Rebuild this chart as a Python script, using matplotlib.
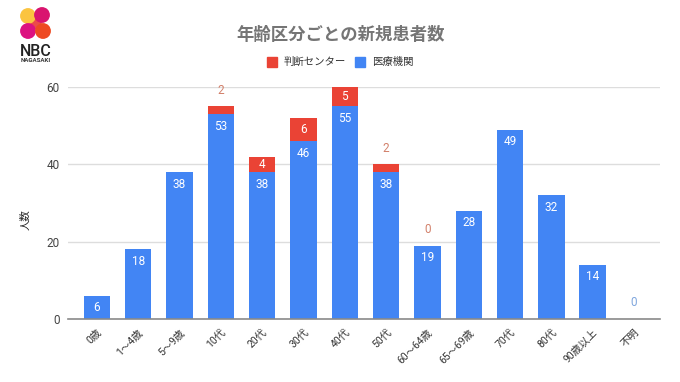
import matplotlib
matplotlib.use("Agg")
import matplotlib.pyplot as plt
from matplotlib.patches import Circle, Rectangle

# Roboto for the digits, the CJK font picks up the rest
plt.rcParams['font.family'] = ['Roboto', 'Noto Sans CJK JP', 'DejaVu Sans']

categories = ['0歳', '1〜4歳', '5〜9歳', '10代', '20代', '30代', '40代', '50代',
              '60〜64歳', '65〜69歳', '70代', '80代', '90歳以上', '不明']
clinic = [6, 18, 38, 53, 38, 46, 55, 38, 19, 28, 49, 32, 14, 0]
center = [0, 0, 0, 2, 4, 6, 5, 2, 0, 0, 0, 0, 0, 0]
y_ticks = [0, 20, 40, 60]
# small red counts that sit above the bar instead of inside it
outside_center = ['10代', '50代', '60〜64歳']

BLUE = '#4285f4'
RED = '#ea4335'

W, H = 680, 382
fig = plt.figure(figsize=(W / 100, H / 100), dpi=100)
ax = fig.add_axes([68 / W, 1 - 319 / H, (660 - 68) / W, (319 - 87) / H])

x = range(len(categories))
ax.bar(x, clinic, width=0.64, color=BLUE, zorder=3)
ax.bar(x, center, width=0.64, bottom=clinic, color=RED, zorder=3)

ax.set_xlim(-0.70, 13.63)
ax.set_ylim(0, 60)
ax.set_yticks(y_ticks)
ax.set_xticks(list(x))
ax.set_xticklabels(categories, rotation=45, ha='right', rotation_mode='anchor', fontsize=7.5, color='#333333')
ax.tick_params(axis='x', length=0, pad=6)
ax.tick_params(axis='y', length=0, pad=6, labelsize=8.5, labelcolor='#444444')
ax.grid(axis='y', color='#dddddd', linewidth=1, zorder=0)
for name in ['top', 'left', 'right']:
    ax.spines[name].set_visible(False)
ax.spines['bottom'].set_color('#8a8a8a')
ax.spines['bottom'].set_linewidth(1.2)
ax.spines['bottom'].set_zorder(4)
fig.text(25 / W, 1 - 220 / H, '人数', rotation=90, ha='center', va='center', fontsize=7.5, color='#222222')

for i, cat in enumerate(categories):
    if clinic[i] > 0:
        ax.text(i, clinic[i] - 3.1 if clinic[i] > 6 else clinic[i] / 2, str(clinic[i]),
                ha='center', va='center', color='white', fontsize=8.5, zorder=5)
    if cat in outside_center:
        ax.text(i, clinic[i] + center[i] + 4.1, str(center[i]), ha='center', va='center',
                color='#d2806a', fontsize=8.5, zorder=5)
    elif center[i] > 0:
        ax.text(i, clinic[i] + center[i] / 2, str(center[i]), ha='center', va='center',
                color='white', fontsize=8.5, zorder=5)
ax.text(13, 4.3, '0', ha='center', va='center', color='#7fa6dd', fontsize=8.5)

# title and legend
fig.text(341 / W, 1 - 34.5 / H, '年齢区分ごとの新規患者数', ha='center', va='center',
         fontsize=12.5, fontweight='bold', color='#757575', family='Noto Sans CJK JP')
fig.patches.append(Rectangle((267 / W, 1 - 67 / H), 10 / W, 10 / H, transform=fig.transFigure, color=RED))
fig.text(284 / W, 1 - 62 / H, '判断センター', ha='left', va='center', fontsize=7.5, color='#333333')
fig.patches.append(Rectangle((355 / W, 1 - 67 / H), 10 / W, 10 / H, transform=fig.transFigure, color=BLUE))
fig.text(372 / W, 1 - 62 / H, '医療機関', ha='left', va='center', fontsize=7.5, color='#333333')

# logo, drawn in pixel coordinates
logo = fig.add_axes([0, 0, 1, 1], zorder=10)
logo.set_xlim(0, W)
logo.set_ylim(H, 0)
logo.axis('off')
logo.add_patch(Circle((35.5, 23), 5.5, color='#ec4a4a'))
for cx, cy, col in [(28, 16, '#fbc440'), (42, 15, '#d9146f'), (28, 31, '#dc1280'), (43, 31, '#ee4a22')]:
    logo.add_patch(Circle((cx, cy), 7.2, color=col))
logo.text(36, 51, 'NBC', ha='center', va='center', fontsize=11.5, color='#222222', family='Roboto', fontweight='medium')
logo.text(36, 60.5, 'NAGASAKI', ha='center', va='center', fontsize=4.4, fontweight='bold', color='#333333', family='Roboto')

fig.savefig('out.png', dpi=100)
